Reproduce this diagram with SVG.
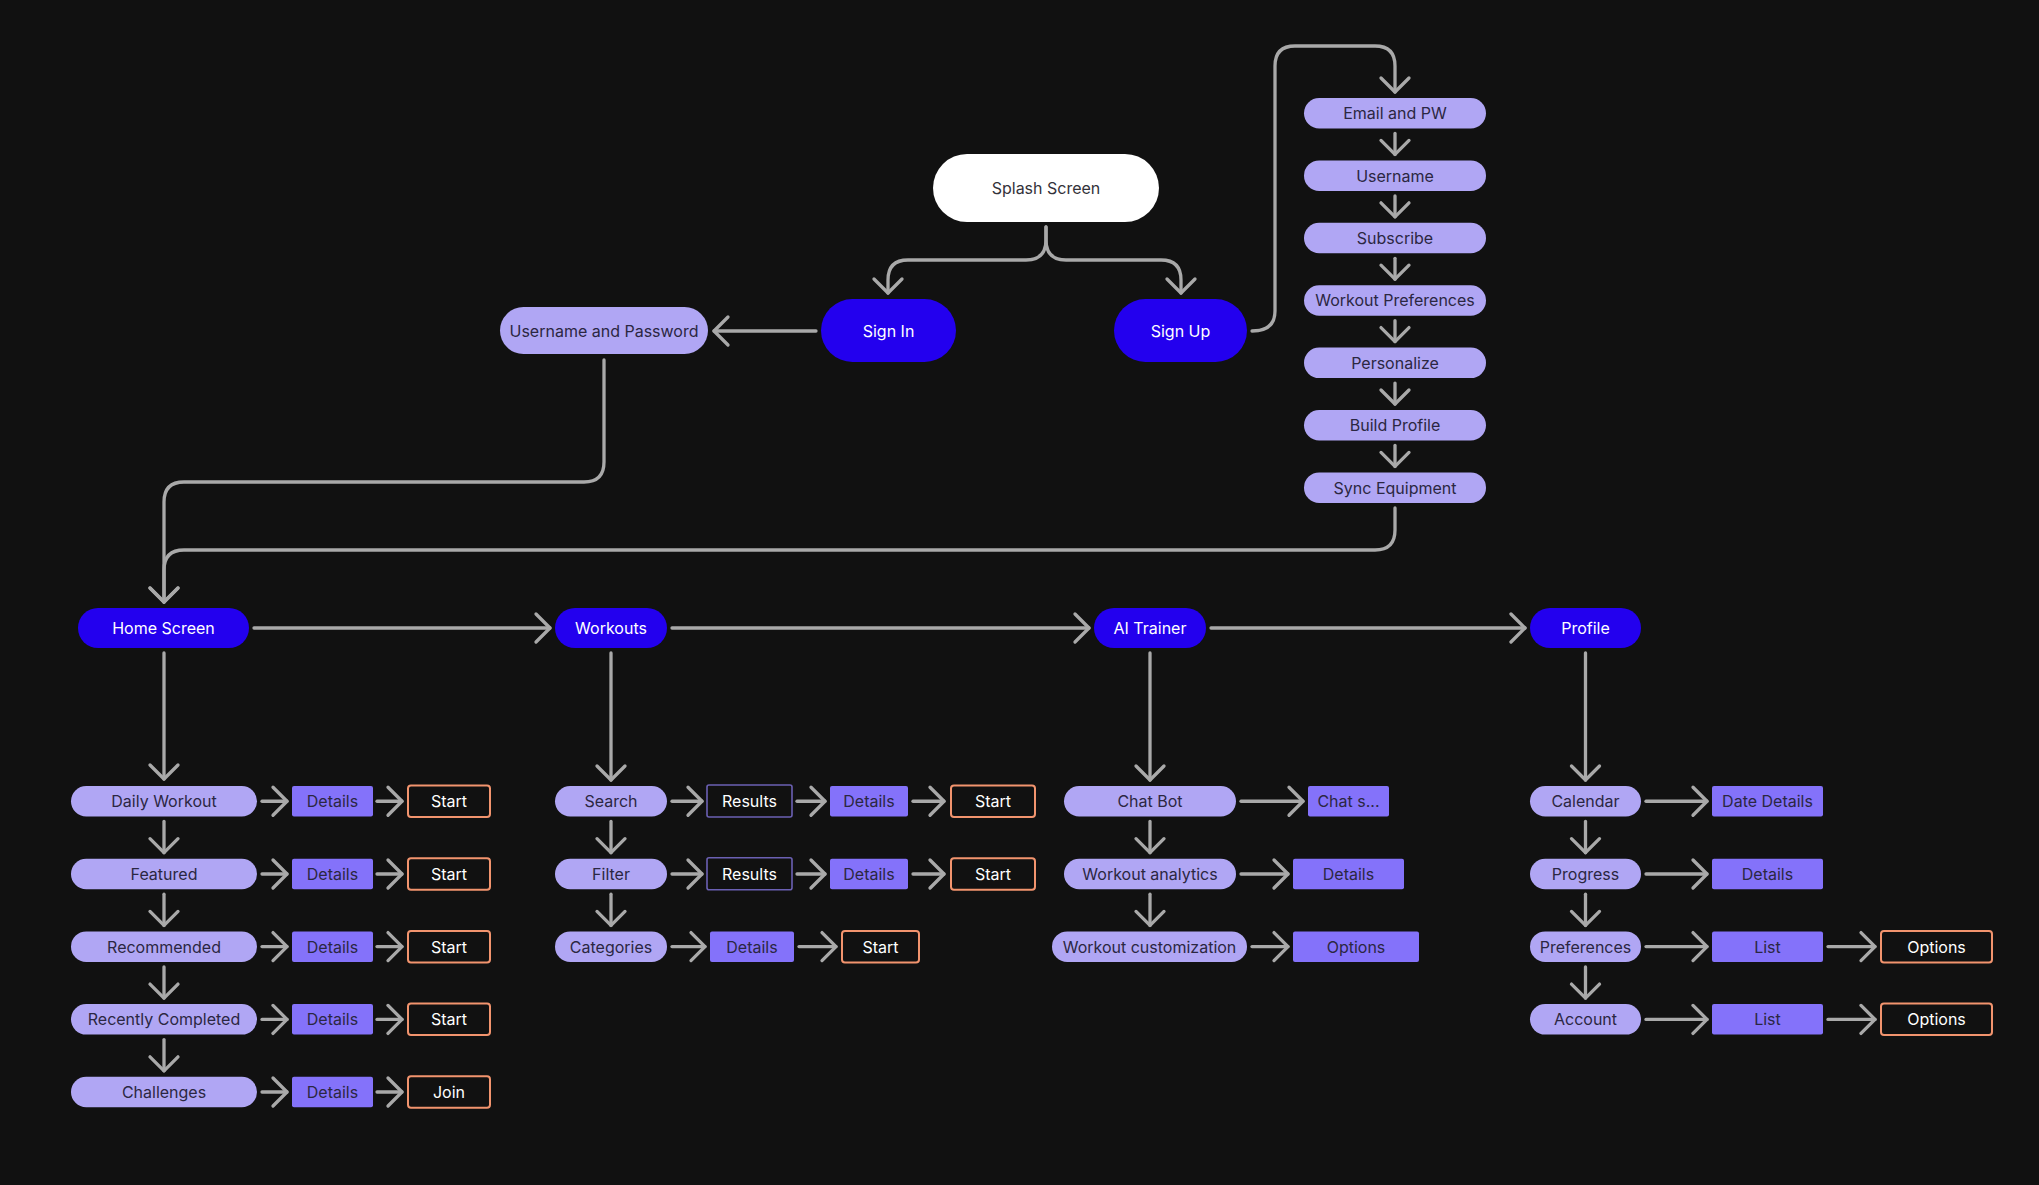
<svg xmlns="http://www.w3.org/2000/svg" width="2039" height="1185" viewBox="0 0 2039 1185">
<defs>
<style>
.pill{fill:#b0a6f4}
.blue{fill:#2300ee}
.det{fill:#8472fa}
.start{fill:#111111;stroke:#f2946e;stroke-width:2}
.res{fill:#111111;stroke:#6b60b3;stroke-width:1.6}
.splash{fill:#ffffff}
text{font-family:Inter,"Noto Sans","Liberation Sans",sans-serif;font-size:16px;text-anchor:middle;dominant-baseline:central}
.dk{fill:#2b2742}
.wt{fill:#ffffff}
.gr{fill:#33323a}
.c{fill:none;stroke:#a9a9a9;stroke-width:3.3;stroke-linecap:round;stroke-linejoin:round;marker-end:url(#ah)}
</style>
<marker id="ah" markerUnits="userSpaceOnUse" markerWidth="36" markerHeight="36" viewBox="-18 -18 36 36" refX="0" refY="0" orient="auto" overflow="visible">
<path d="M-14,-14 L0,0 L-14,14" fill="none" stroke="#a9a9a9" stroke-width="3.3" stroke-linecap="round" stroke-linejoin="round"/>
</marker>
</defs>
<rect x="0" y="0" width="2039" height="1185" fill="#111111"/>

<g id="connectors">
<path class="c" d="M1046,227 V240 Q1046,260 1026,260 H908 Q888,260 888,280 V293"/>
<path class="c" d="M1046,227 V240 Q1046,260 1066,260 H1161 Q1181,260 1181,280 V293"/>
<path class="c" d="M816,331 H714"/>
<path class="c" d="M1252,331 Q1275,331 1275,311 V66 Q1275,46 1295,46 H1375 Q1395,46 1395,66 V92"/>
<path class="c" d="M1395,133.5 V154.4"/>
<path class="c" d="M1395,195.9 V216.8"/>
<path class="c" d="M1395,258.3 V279.2"/>
<path class="c" d="M1395,320.7 V341.6"/>
<path class="c" d="M1395,383.1 V404"/>
<path class="c" d="M1395,445.5 V466.4"/>
<path class="c" d="M1395,508 V530 Q1395,550 1375,550 H184 Q164,550 164,570 V602"/>
<path class="c" d="M604,360 V462 Q604,482 584,482 H184 Q164,482 164,502 V602"/>
<path class="c" d="M254,628 H550"/>
<path class="c" d="M672,628 H1089"/>
<path class="c" d="M1211,628 H1525"/>
<path class="c" d="M164,653 V779"/>
<path class="c" d="M611,653 V780"/>
<path class="c" d="M1150,653 V780"/>
<path class="c" d="M1585.5,653 V780"/>
<!-- home column -->
<path class="c" d="M164,821.5 V852.7"/>
<path class="c" d="M164,894.2 V925.4"/>
<path class="c" d="M164,966.9 V998.1"/>
<path class="c" d="M164,1039.6 V1070.8"/>
<path class="c" d="M262,801.25 H287"/>
<path class="c" d="M377,801.25 H402"/>
<path class="c" d="M262,874 H287"/>
<path class="c" d="M377,874 H402"/>
<path class="c" d="M262,946.6 H287"/>
<path class="c" d="M377,946.6 H402"/>
<path class="c" d="M262,1019.4 H287"/>
<path class="c" d="M377,1019.4 H402"/>
<path class="c" d="M262,1092 H287"/>
<path class="c" d="M377,1092 H402"/>
<!-- workouts column -->
<path class="c" d="M611,821.5 V852.7"/>
<path class="c" d="M611,894.2 V925.4"/>
<path class="c" d="M672,801.25 H702"/>
<path class="c" d="M797,801.25 H825"/>
<path class="c" d="M913,801.25 H944"/>
<path class="c" d="M672,874 H702"/>
<path class="c" d="M797,874 H825"/>
<path class="c" d="M913,874 H944"/>
<path class="c" d="M672,946.6 H705"/>
<path class="c" d="M799,946.6 H836"/>
<!-- ai column -->
<path class="c" d="M1150,821.5 V852.7"/>
<path class="c" d="M1150,894.2 V925.4"/>
<path class="c" d="M1241,801.25 H1303"/>
<path class="c" d="M1241,874 H1288"/>
<path class="c" d="M1252,946.6 H1288"/>
<!-- profile column -->
<path class="c" d="M1585.5,821.5 V852.7"/>
<path class="c" d="M1585.5,894.2 V925.4"/>
<path class="c" d="M1585.5,966.9 V998.1"/>
<path class="c" d="M1646,801.25 H1707"/>
<path class="c" d="M1646,874 H1707"/>
<path class="c" d="M1646,946.6 H1707"/>
<path class="c" d="M1646,1019.4 H1707"/>
<path class="c" d="M1828,946.6 H1875"/>
<path class="c" d="M1828,1019.4 H1875"/>
</g>

<g id="splash"><rect class="splash" x="933" y="154" width="226" height="68" rx="34"/><text class="gr" x="1046" y="188">Splash Screen</text></g>
<g id="signin"><rect class="blue" x="821" y="299" width="135" height="63" rx="31.5"/><text class="wt" x="888.5" y="330.5">Sign In</text></g>
<g id="signup"><rect class="blue" x="1114" y="299" width="133" height="63" rx="31.5"/><text class="wt" x="1180.5" y="330.5">Sign Up</text></g>
<g id="userpass"><rect class="pill" x="500" y="307" width="208" height="47" rx="23.5"/><text class="dk" x="604" y="330.5">Username and Password</text></g>

<g id="email"><rect class="pill" x="1304" y="98" width="182" height="30.5" rx="15.25"/><text class="dk" x="1395" y="113.25">Email and PW</text></g>
<g id="username"><rect class="pill" x="1304" y="160.4" width="182" height="30.5" rx="15.25"/><text class="dk" x="1395" y="175.65">Username</text></g>
<g id="subscribe"><rect class="pill" x="1304" y="222.8" width="182" height="30.5" rx="15.25"/><text class="dk" x="1395" y="238.05">Subscribe</text></g>
<g id="workoutprefs"><rect class="pill" x="1304" y="285.2" width="182" height="30.5" rx="15.25"/><text class="dk" x="1395" y="300.45">Workout Preferences</text></g>
<g id="personalize"><rect class="pill" x="1304" y="347.6" width="182" height="30.5" rx="15.25"/><text class="dk" x="1395" y="362.85">Personalize</text></g>
<g id="buildprofile"><rect class="pill" x="1304" y="410" width="182" height="30.5" rx="15.25"/><text class="dk" x="1395" y="425.25">Build Profile</text></g>
<g id="syncequip"><rect class="pill" x="1304" y="472.4" width="182" height="30.5" rx="15.25"/><text class="dk" x="1395" y="487.65">Sync Equipment</text></g>

<g id="home"><rect class="blue" x="78" y="608" width="171" height="40" rx="20"/><text class="wt" x="163.5" y="628">Home Screen</text></g>
<g id="workouts"><rect class="blue" x="555" y="608" width="112" height="40" rx="20"/><text class="wt" x="611" y="628">Workouts</text></g>
<g id="aitrainer"><rect class="blue" x="1094" y="608" width="112" height="40" rx="20"/><text class="wt" x="1150" y="628">AI Trainer</text></g>
<g id="profile"><rect class="blue" x="1530" y="608" width="111" height="40" rx="20"/><text class="wt" x="1585.5" y="628">Profile</text></g>

<!-- home column -->
<g id="daily"><rect class="pill" x="71" y="786" width="186" height="30.5" rx="15.25"/><text class="dk" x="164" y="801.25">Daily Workout</text></g>
<g id="daily-details"><rect class="det" x="292" y="786" width="81" height="30.5" rx="2"/><text class="dk" x="332.5" y="801.25">Details</text></g>
<g id="daily-start"><rect class="start" x="408" y="785.5" width="82" height="31.5" rx="3"/><text class="wt" x="449" y="801.25">Start</text></g>
<g id="featured"><rect class="pill" x="71" y="858.7" width="186" height="30.5" rx="15.25"/><text class="dk" x="164" y="874">Featured</text></g>
<g id="featured-details"><rect class="det" x="292" y="858.7" width="81" height="30.5" rx="2"/><text class="dk" x="332.5" y="874">Details</text></g>
<g id="featured-start"><rect class="start" x="408" y="858.2" width="82" height="31.5" rx="3"/><text class="wt" x="449" y="874">Start</text></g>
<g id="recommended"><rect class="pill" x="71" y="931.4" width="186" height="30.5" rx="15.25"/><text class="dk" x="164" y="946.6">Recommended</text></g>
<g id="recommended-details"><rect class="det" x="292" y="931.4" width="81" height="30.5" rx="2"/><text class="dk" x="332.5" y="946.6">Details</text></g>
<g id="recommended-start"><rect class="start" x="408" y="930.9" width="82" height="31.5" rx="3"/><text class="wt" x="449" y="946.6">Start</text></g>
<g id="recent"><rect class="pill" x="71" y="1004.1" width="186" height="30.5" rx="15.25"/><text class="dk" x="164" y="1019.4">Recently Completed</text></g>
<g id="recent-details"><rect class="det" x="292" y="1004.1" width="81" height="30.5" rx="2"/><text class="dk" x="332.5" y="1019.4">Details</text></g>
<g id="recent-start"><rect class="start" x="408" y="1003.6" width="82" height="31.5" rx="3"/><text class="wt" x="449" y="1019.4">Start</text></g>
<g id="challenges"><rect class="pill" x="71" y="1076.8" width="186" height="30.5" rx="15.25"/><text class="dk" x="164" y="1092">Challenges</text></g>
<g id="challenges-details"><rect class="det" x="292" y="1076.8" width="81" height="30.5" rx="2"/><text class="dk" x="332.5" y="1092">Details</text></g>
<g id="challenges-join"><rect class="start" x="408" y="1076.3" width="82" height="31.5" rx="3"/><text class="wt" x="449" y="1092">Join</text></g>

<!-- workouts column -->
<g id="search"><rect class="pill" x="555" y="786" width="112" height="30.5" rx="15.25"/><text class="dk" x="611" y="801.25">Search</text></g>
<g id="search-results"><rect class="res" x="707" y="785" width="85" height="32" rx="2"/><text class="wt" x="749.5" y="801.25">Results</text></g>
<g id="search-details"><rect class="det" x="830" y="786" width="78" height="30.5" rx="2"/><text class="dk" x="869" y="801.25">Details</text></g>
<g id="search-start"><rect class="start" x="951" y="785.5" width="84" height="31.5" rx="3"/><text class="wt" x="993" y="801.25">Start</text></g>
<g id="filter"><rect class="pill" x="555" y="858.7" width="112" height="30.5" rx="15.25"/><text class="dk" x="611" y="874">Filter</text></g>
<g id="filter-results"><rect class="res" x="707" y="857.7" width="85" height="32" rx="2"/><text class="wt" x="749.5" y="874">Results</text></g>
<g id="filter-details"><rect class="det" x="830" y="858.7" width="78" height="30.5" rx="2"/><text class="dk" x="869" y="874">Details</text></g>
<g id="filter-start"><rect class="start" x="951" y="858.2" width="84" height="31.5" rx="3"/><text class="wt" x="993" y="874">Start</text></g>
<g id="categories"><rect class="pill" x="555" y="931.4" width="112" height="30.5" rx="15.25"/><text class="dk" x="611" y="946.6">Categories</text></g>
<g id="categories-details"><rect class="det" x="710" y="931.4" width="84" height="30.5" rx="2"/><text class="dk" x="752" y="946.6">Details</text></g>
<g id="categories-start"><rect class="start" x="842" y="930.9" width="77" height="31.5" rx="3"/><text class="wt" x="880.5" y="946.6">Start</text></g>

<!-- ai column -->
<g id="chatbot"><rect class="pill" x="1064" y="786" width="172" height="30.5" rx="15.25"/><text class="dk" x="1150" y="801.25">Chat Bot</text></g>
<g id="chats"><rect class="det" x="1308" y="786" width="81" height="30.5" rx="2"/><text class="dk" x="1348.5" y="801.25">Chat s...</text></g>
<g id="analytics"><rect class="pill" x="1064" y="858.7" width="172" height="30.5" rx="15.25"/><text class="dk" x="1150" y="874">Workout analytics</text></g>
<g id="analytics-details"><rect class="det" x="1293" y="858.7" width="111" height="30.5" rx="2"/><text class="dk" x="1348.5" y="874">Details</text></g>
<g id="customization"><rect class="pill" x="1052" y="931.4" width="195" height="30.5" rx="15.25"/><text class="dk" x="1149.5" y="946.6">Workout customization</text></g>
<g id="customization-options"><rect class="det" x="1293" y="931.4" width="126" height="30.5" rx="2"/><text class="dk" x="1356" y="946.6">Options</text></g>

<!-- profile column -->
<g id="calendar"><rect class="pill" x="1530" y="786" width="111" height="30.5" rx="15.25"/><text class="dk" x="1585.5" y="801.25">Calendar</text></g>
<g id="datedetails"><rect class="det" x="1712" y="786" width="111" height="30.5" rx="2"/><text class="dk" x="1767.5" y="801.25">Date Details</text></g>
<g id="progress"><rect class="pill" x="1530" y="858.7" width="111" height="30.5" rx="15.25"/><text class="dk" x="1585.5" y="874">Progress</text></g>
<g id="progress-details"><rect class="det" x="1712" y="858.7" width="111" height="30.5" rx="2"/><text class="dk" x="1767.5" y="874">Details</text></g>
<g id="preferences"><rect class="pill" x="1530" y="931.4" width="111" height="30.5" rx="15.25"/><text class="dk" x="1585.5" y="946.6">Preferences</text></g>
<g id="preferences-list"><rect class="det" x="1712" y="931.4" width="111" height="30.5" rx="2"/><text class="dk" x="1767.5" y="946.6">List</text></g>
<g id="preferences-options"><rect class="start" x="1881" y="930.9" width="111" height="31.5" rx="3"/><text class="wt" x="1936.5" y="946.6">Options</text></g>
<g id="account"><rect class="pill" x="1530" y="1004.1" width="111" height="30.5" rx="15.25"/><text class="dk" x="1585.5" y="1019.4">Account</text></g>
<g id="account-list"><rect class="det" x="1712" y="1004.1" width="111" height="30.5" rx="2"/><text class="dk" x="1767.5" y="1019.4">List</text></g>
<g id="account-options"><rect class="start" x="1881" y="1003.6" width="111" height="31.5" rx="3"/><text class="wt" x="1936.5" y="1019.4">Options</text></g>
</svg>
